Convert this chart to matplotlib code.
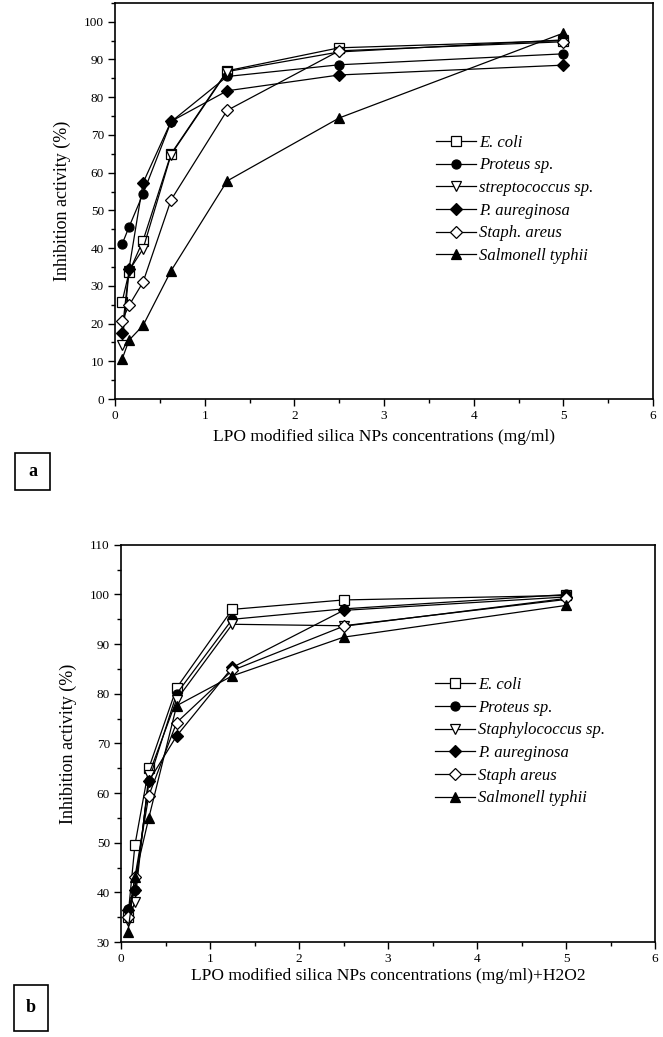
import matplotlib
matplotlib.use("Agg")
import matplotlib.pyplot as plt
from matplotlib.patches import Rectangle
from matplotlib.ticker import MultipleLocator

# two-fold dilution series (mg/ml)
conc = [0.078, 0.156, 0.3125, 0.625, 1.25, 2.5, 5.0]

# panel a: LPO modified silica NPs
a_ecoli = [25.7, 33.6, 42.0, 65.0, 87.0, 93.1, 95.0]
a_proteus = [41.0, 45.6, 54.4, 73.5, 85.5, 88.6, 91.5]
a_strepto = [14.2, 34.0, 39.8, 64.8, 86.8, 92.0, 95.2]
a_paerug = [17.6, 34.5, 57.3, 73.6, 81.7, 85.9, 88.5]
a_staph = [20.8, 24.8, 31.0, 52.8, 76.5, 92.3, 94.7]
a_salm = [10.5, 15.6, 19.5, 34.0, 57.8, 74.5, 97.0]

# panel b: same NPs + H2O2
b_ecoli = [35.0, 49.5, 65.0, 81.2, 97.0, 98.9, 99.8]
b_proteus = [36.7, 40.4, 62.4, 80.0, 95.0, 97.1, 100.0]
b_staphsp = [34.3, 38.0, 63.7, 78.8, 94.0, 93.7, 99.0]
b_paerug = [36.4, 40.4, 62.4, 71.5, 85.3, 96.8, 99.5]
b_staph = [35.0, 43.0, 59.5, 74.2, 84.7, 93.6, 99.2]
b_salm = [32.0, 43.0, 55.0, 77.6, 83.6, 91.4, 97.8]

labels_a = ["E. coli", "Proteus sp.", "streptococcus sp.", "P. aureginosa", "Staph. areus", "Salmonell typhii"]
labels_b = ["E. coli", "Proteus sp.", "Staphylococcus sp.", "P. aureginosa", "Staph areus", "Salmonell typhii"]

# marker, filled?, size
styles = [("s", False, 6.5), ("o", True, 6.5), ("v", False, 7), ("D", True, 6), ("D", False, 6), ("^", True, 7)]

SERIF = "Liberation Serif"


def draw_panel(ax, series, labels, ylim, yticks, xlabel, labelpad, legend_xy):
    for ys, lab, (m, filled, ms) in zip(series, labels, styles):
        ax.plot(conc, ys, color="black", lw=0.9, marker=m, ms=ms,
                mfc="black" if filled else "white", mec="black", mew=0.9, label=lab)
    ax.set_xlim(0, 6)
    ax.set_ylim(*ylim)
    ax.set_xticks(range(0, 7))
    ax.set_yticks(yticks)
    ax.xaxis.set_minor_locator(MultipleLocator(0.5))
    ax.yaxis.set_minor_locator(MultipleLocator(5))
    ax.tick_params(which="major", direction="out", length=5, width=1, labelsize=9.5, pad=3)
    ax.tick_params(which="minor", direction="out", length=3, width=1)
    for t in ax.get_xticklabels() + ax.get_yticklabels():
        t.set_fontfamily(SERIF)
    for s in ax.spines.values():
        s.set_linewidth(1.2)
    ax.set_ylabel("Inhibition activity (%)", fontfamily=SERIF, fontsize=13, labelpad=9)
    ax.set_xlabel(xlabel, fontfamily=SERIF, fontsize=12.5, labelpad=labelpad)
    ax.legend(loc="upper left", bbox_to_anchor=legend_xy, frameon=False, numpoints=1,
              handlelength=2.4, handletextpad=0.2, labelspacing=0.4,
              prop={"family": SERIF, "style": "italic", "size": 12})


fig = plt.figure(figsize=(6.63, 10.37), dpi=100)
ax_a = fig.add_axes([0.1735, 0.6152, 0.8115, 0.382])
ax_b = fig.add_axes([0.1825, 0.0916, 0.8055, 0.383])

draw_panel(ax_a, [a_ecoli, a_proteus, a_strepto, a_paerug, a_staph, a_salm], labels_a,
           (0, 105), range(0, 101, 10), "LPO modified silica NPs concentrations (mg/ml)", 5,
           (0.568, 0.705))
draw_panel(ax_b, [b_ecoli, b_proteus, b_staphsp, b_paerug, b_staph, b_salm], labels_b,
           (30, 110), range(30, 111, 10), "LPO modified silica NPs concentrations (mg/ml)+H2O2", 2,
           (0.56, 0.705))

# panel letters in boxes
for (x0, y0, w, h, letter) in [(15, 453, 35, 37, "a"), (14, 985, 34, 46, "b")]:
    fig.add_artist(Rectangle((x0 / 663, 1 - (y0 + h) / 1037), w / 663, h / 1037,
                             transform=fig.transFigure, fill=False, lw=1.2, ec="black"))
    fig.text((x0 + w / 2) / 663, 1 - (y0 + h / 2) / 1037, letter, ha="center", va="center",
             fontfamily=SERIF, fontweight="bold", fontsize=13)

fig.savefig("out.png", dpi=100)
